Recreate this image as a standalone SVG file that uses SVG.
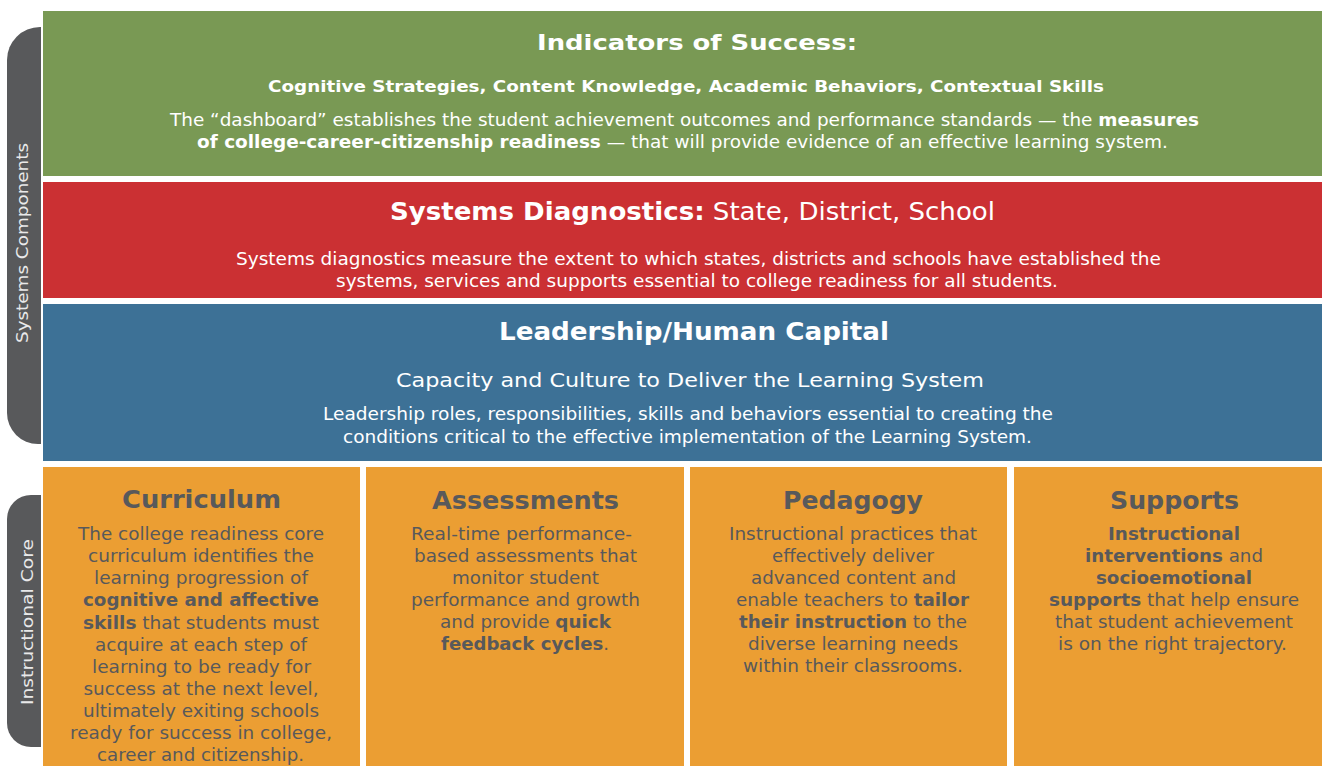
<svg xmlns="http://www.w3.org/2000/svg" width="1322" height="766" viewBox="0 0 1322 766">
<style>
text{font-family:"DejaVu Sans","Liberation Sans",sans-serif;text-anchor:middle}
.w{fill:#FFFFFF}
.g{fill:#58595B}
.b{font-weight:bold}
.tab{fill:#58595B}
.tabt{fill:#E9E9EA;font-size:16px}
.body{font-size:17px}
.ob{font-size:18px}
.ot{font-size:24px;font-weight:bold}
.org{fill:#EB9E33}
</style>
<rect width="1322" height="766" fill="#FFFFFF"/>

<g id="tab-systems">
<path class="tab" d="M41,27 L41,444 L38,444 A31,31 0 0 1 7,413 L7,60 A33,33 0 0 1 40,27 Z"/>
<text class="tabt" transform="translate(28,243) rotate(-90)" textLength="200" lengthAdjust="spacingAndGlyphs">Systems Components</text>
</g>

<g id="tab-instructional">
<path class="tab" d="M41,495 L41,747 L31,747 A24,24 0 0 1 7,723 L7,519 A24,24 0 0 1 31,495 Z"/>
<text class="tabt" transform="translate(33,622) rotate(-90)" textLength="166" lengthAdjust="spacingAndGlyphs">Instructional Core</text>
</g>

<g id="indicators">
<rect x="43" y="11" width="1279" height="165" fill="#799954"/>
<text class="w b" x="697" y="50" font-size="22" textLength="320" lengthAdjust="spacingAndGlyphs">Indicators of Success:</text>
<text class="w b" x="686" y="92" font-size="16" textLength="836" lengthAdjust="spacingAndGlyphs">Cognitive Strategies, Content Knowledge, Academic Behaviors, Contextual Skills</text>
<text class="w body" x="684.5" y="126" textLength="1029" lengthAdjust="spacingAndGlyphs">The “dashboard” establishes the student achievement outcomes and performance standards — the <tspan class="b">measures</tspan></text>
<text class="w body" x="682.5" y="148" textLength="971" lengthAdjust="spacingAndGlyphs"><tspan class="b">of college-career-citizenship readiness</tspan> — that will provide evidence of an effective learning system.</text>
</g>

<g id="diagnostics">
<rect x="43" y="182" width="1279" height="116" fill="#CB3033"/>
<text class="w" x="692.5" y="220" font-size="25" textLength="605" lengthAdjust="spacingAndGlyphs"><tspan class="b">Systems Diagnostics:</tspan> State, District, School</text>
<text class="w body" x="698.5" y="265" textLength="925" lengthAdjust="spacingAndGlyphs">Systems diagnostics measure the extent to which states, districts and schools have established the</text>
<text class="w body" x="697" y="287" textLength="722" lengthAdjust="spacingAndGlyphs">systems, services and supports essential to college readiness for all students.</text>
</g>

<g id="leadership">
<rect x="43" y="304" width="1279" height="157" fill="#3D7196"/>
<text class="w b" x="694" y="340" font-size="24" textLength="390" lengthAdjust="spacingAndGlyphs">Leadership/Human Capital</text>
<text class="w" x="690" y="387" font-size="20" textLength="588" lengthAdjust="spacingAndGlyphs">Capacity and Culture to Deliver the Learning System</text>
<text class="w body" x="688" y="420" textLength="730" lengthAdjust="spacingAndGlyphs">Leadership roles, responsibilities, skills and behaviors essential to creating the</text>
<text class="w body" x="687.5" y="443" textLength="689" lengthAdjust="spacingAndGlyphs">conditions critical to the effective implementation of the Learning System.</text>
</g>

<g id="curriculum">
<rect class="org" x="43" y="467" width="317" height="299"/>
<text class="g ot" x="201.5" y="508" textLength="159" lengthAdjust="spacingAndGlyphs">Curriculum</text>
<g class="g ob">
<text x="201" y="540" textLength="246" lengthAdjust="spacingAndGlyphs">The college readiness core</text>
<text x="201" y="562" textLength="226" lengthAdjust="spacingAndGlyphs">curriculum identifies the</text>
<text x="201" y="584" textLength="214" lengthAdjust="spacingAndGlyphs">learning progression of</text>
<text x="201" y="606" textLength="236" lengthAdjust="spacingAndGlyphs"><tspan class="b">cognitive and affective</tspan></text>
<text x="201" y="629" textLength="236" lengthAdjust="spacingAndGlyphs"><tspan class="b">skills</tspan> that students must</text>
<text x="201" y="651" textLength="212" lengthAdjust="spacingAndGlyphs">acquire at each step of</text>
<text x="201.5" y="673" textLength="219" lengthAdjust="spacingAndGlyphs">learning to be ready for</text>
<text x="201" y="695" textLength="235" lengthAdjust="spacingAndGlyphs">success at the next level,</text>
<text x="201" y="717" textLength="236" lengthAdjust="spacingAndGlyphs">ultimately exiting schools</text>
<text x="201" y="739" textLength="262" lengthAdjust="spacingAndGlyphs">ready for success in college,</text>
<text x="200.5" y="761" textLength="207" lengthAdjust="spacingAndGlyphs">career and citizenship.</text>
</g>
</g>

<g id="assessments">
<rect class="org" x="366" y="467" width="318" height="299"/>
<text class="g ot" x="525.5" y="509" textLength="187" lengthAdjust="spacingAndGlyphs">Assessments</text>
<g class="g ob">
<text x="521.5" y="540" textLength="221" lengthAdjust="spacingAndGlyphs">Real-time performance-</text>
<text x="525.5" y="562" textLength="223" lengthAdjust="spacingAndGlyphs">based assessments that</text>
<text x="525.5" y="584" textLength="147" lengthAdjust="spacingAndGlyphs">monitor student</text>
<text x="525.5" y="606" textLength="229" lengthAdjust="spacingAndGlyphs">performance and growth</text>
<text x="525.5" y="628" textLength="171" lengthAdjust="spacingAndGlyphs">and provide <tspan class="b">quick</tspan></text>
<text x="525" y="650" textLength="168" lengthAdjust="spacingAndGlyphs"><tspan class="b">feedback cycles</tspan>.</text>
</g>
</g>

<g id="pedagogy">
<rect class="org" x="690" y="467" width="317" height="299"/>
<text class="g ot" x="853" y="509" textLength="140" lengthAdjust="spacingAndGlyphs">Pedagogy</text>
<g class="g ob">
<text x="853" y="540" textLength="248" lengthAdjust="spacingAndGlyphs">Instructional practices that</text>
<text x="853" y="562" textLength="162" lengthAdjust="spacingAndGlyphs">effectively deliver</text>
<text x="853.5" y="584" textLength="205" lengthAdjust="spacingAndGlyphs">advanced content and</text>
<text x="852.5" y="606" textLength="233" lengthAdjust="spacingAndGlyphs">enable teachers to <tspan class="b">tailor</tspan></text>
<text x="853" y="628" textLength="228" lengthAdjust="spacingAndGlyphs"><tspan class="b">their instruction</tspan> to the</text>
<text x="853" y="650" textLength="210" lengthAdjust="spacingAndGlyphs">diverse learning needs</text>
<text x="853" y="672" textLength="220" lengthAdjust="spacingAndGlyphs">within their classrooms.</text>
</g>
</g>

<g id="supports">
<rect class="org" x="1014" y="467" width="308" height="299"/>
<text class="g ot" x="1174.5" y="509" textLength="129" lengthAdjust="spacingAndGlyphs">Supports</text>
<g class="g ob">
<text x="1174" y="540" textLength="132" lengthAdjust="spacingAndGlyphs"><tspan class="b">Instructional</tspan></text>
<text x="1174" y="562" textLength="178" lengthAdjust="spacingAndGlyphs"><tspan class="b">interventions</tspan> and</text>
<text x="1174" y="584" textLength="156" lengthAdjust="spacingAndGlyphs"><tspan class="b">socioemotional</tspan></text>
<text x="1174" y="606" textLength="250" lengthAdjust="spacingAndGlyphs"><tspan class="b">supports</tspan> that help ensure</text>
<text x="1174" y="628" textLength="238" lengthAdjust="spacingAndGlyphs">that student achievement</text>
<text x="1172.5" y="650" textLength="229" lengthAdjust="spacingAndGlyphs">is on the right trajectory.</text>
</g>
</g>
</svg>
